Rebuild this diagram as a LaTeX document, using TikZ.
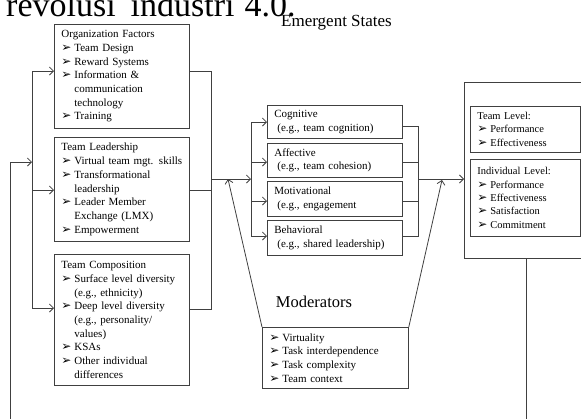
\documentclass[tikz,border=0pt]{standalone}
\usepackage{fontspec}
\setmainfont{Liberation Serif}
\newfontfamily\dvs{DejaVu Sans}
\usetikzlibrary{arrows.meta}
\newcommand\bl{{\dvs\fontsize{12}{12}\selectfont ➢}}
\newcommand\itm[1]{\makebox[13pt][l]{\bl}#1}
\newcommand\cnt[1]{\hspace*{13pt}#1}
\tikzset{
  ln/.style={draw=black!75, line width=0.8pt},
  arr/.style={ln, -{Straight Barb[length=4pt,width=8pt]}},
  box/.style={draw=black!75, line width=0.8pt, anchor=north west, inner xsep=7pt, inner ysep=0pt,
    align=left, font=\fontsize{11}{13.7}\selectfont},
  obox/.style={box, font=\fontsize{10.5}{13.4}\selectfont},
}
\begin{document}
\begin{tikzpicture}[x=1pt,y=-1pt]
\useasboundingbox (0,0) rectangle (581,418);
\clip (0,0) rectangle (581,418);
\node[anchor=base west, inner sep=0, font=\fontsize{34}{36}\selectfont] (title) at (6,16.5) {revolusi\hspace{15pt}industri\hspace{10pt}4.0.};
\node[anchor=west, inner sep=0, font=\fontsize{17}{19}\selectfont] (es) at (281,23) {Emergent States};

% input boxes
\node[box, text width=121pt, minimum height=104pt] (org) at (54,24) {Organization Factors\\
\itm{Team Design}\\ \itm{Reward Systems}\\ \itm{Information \&}\\ \cnt{communication}\\ \cnt{technology}\\ \itm{Training}};
\node[box, text width=121pt, minimum height=104pt] (lead) at (54,137) {Team Leadership\\
\itm{Virtual team mgt. skills}\\ \itm{Transformational}\\ \cnt{leadership}\\ \itm{Leader Member}\\ \cnt{Exchange (LMX)}\\ \itm{Empowerment}};
\node[box, text width=121pt, minimum height=131pt] (comp) at (54,254) {Team Composition\\
\itm{Surface level diversity}\\ \cnt{(e.g., ethnicity)}\\ \itm{Deep level diversity}\\ \cnt{(e.g., personality/}\\ \cnt{values)}\\ \itm{KSAs}\\ \itm{Other individual}\\ \cnt{differences}};

% emergent states
\node[box, text width=121pt, minimum height=33pt] (cog) at (267,105) {Cognitive\\ \hspace*{3pt}(e.g., team cognition)};
\node[box, text width=121pt, minimum height=34pt] (aff) at (267,143) {Affective\\ \hspace*{3pt}(e.g., team cohesion)};
\node[box, text width=121pt, minimum height=35pt] (mot) at (267,181) {Motivational\\ \hspace*{3pt}(e.g., engagement};
\node[box, text width=121pt, minimum height=35pt] (beh) at (267,220) {Behavioral\\ \hspace*{3pt}(e.g., shared leadership)};

% moderators
\node[inner sep=0, font=\fontsize{16.5}{19}\selectfont] (mlab) at (314,302) {Moderators};
\node[box, text width=132pt, minimum height=61pt] (mod) at (262,327) {\itm{Virtuality}\\ \itm{Task interdependence}\\ \itm{Task complexity}\\ \itm{Team context}};

% outcomes
\node[ln, draw, anchor=north west, minimum width=130pt, minimum height=176pt, inner sep=0] (out) at (464,82) {};
\node[obox, text width=96pt, minimum height=46pt] (tl) at (470,106) {Team Level:\\ \itm{Performance}\\ \itm{Effectiveness}};
\node[obox, text width=96pt, minimum height=77pt] (il) at (470,159) {Individual Level:\\ \itm{Performance}\\ \itm{Effectiveness}\\ \itm{Satisfaction}\\ \itm{Commitment}};

% coordinates
\coordinate (fb) at (10,425);
\coordinate (ja) at (32,71);
\coordinate (jm) at (32,162);
\coordinate (jl) at (32,190);
\coordinate (jb) at (32,308);
\coordinate (ra) at (211,71);
\coordinate (rl) at (211,190);
\coordinate (rb) at (211,309);
\coordinate (rc) at (211,179);
\coordinate (da) at (251,122);
\coordinate (dm) at (251,179);
\coordinate (d2) at (251,162);
\coordinate (d3) at (251,201);
\coordinate (db) at (251,236);
\coordinate (ea) at (418,126);
\coordinate (e2) at (418,162);
\coordinate (e3) at (418,201);
\coordinate (eb) at (418,236);
\coordinate (ec) at (418,179);
\coordinate (m1) at (228,179);
\coordinate (m2) at (442,180);
\coordinate (ob) at (526,425);

% feedback
\draw[arr] (fb) |- (jm);
\draw[ln] (out.south -| ob) -- (ob);
% inputs
\draw[ln] (ja) -- (jb);
\draw[arr] (ja) -- (org.west |- ja);
\draw[arr] (jl) -- (lead.west |- jl);
\draw[arr] (jb) -- (comp.west |- jb);
\draw[ln] (org.east |- ra) -- (ra) -- (rb) -- (comp.east |- rb);
\draw[ln] (lead.east |- rl) -- (rl);
\draw[arr] (rc) -- (dm);
% distribution
\draw[ln] (da) -- (db);
\draw[arr] (da) -- (cog.west |- da);
\draw[arr] (d2) -- (aff.west |- d2);
\draw[arr] (d3) -- (mot.west |- d3);
\draw[arr] (db) -- (beh.west |- db);
% collection
\draw[ln] (cog.east |- ea) -- (ea) -- (eb) -- (beh.east |- eb);
\draw[ln] (aff.east |- e2) -- (e2);
\draw[ln] (mot.east |- e3) -- (e3);
\draw[arr] (ec) -- (out.west |- ec);
% moderators
\draw[arr] (mod.north west) -- (m1);
\draw[arr] (mod.north east) -- (m2);
\end{tikzpicture}
\end{document}
